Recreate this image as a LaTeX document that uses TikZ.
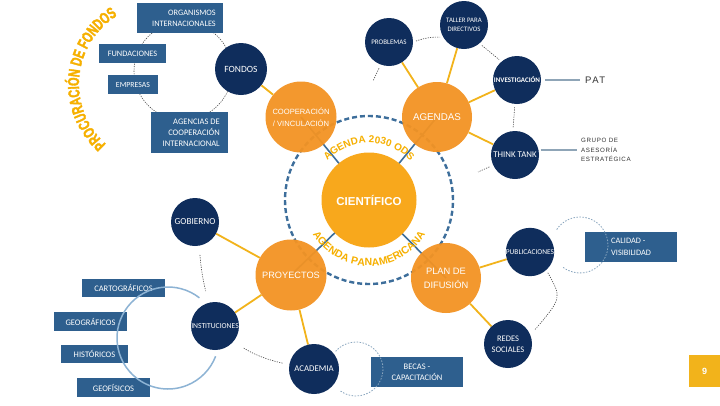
\documentclass[tikz,border=0pt]{standalone}
\usepackage{fontspec}
\setmainfont{Carlito}
\newfontfamily\lib{Liberation Sans}
\newfontfamily\heavy[FakeStretch=0.68, BoldFeatures={FakeStretch=0.68, FakeBold=2}]{Liberation Sans}
\usetikzlibrary{decorations.text,backgrounds}
\newcommand\myfs[2]{\fontsize{#1}{#2}\selectfont}
\definecolor{navy}{HTML}{0F2D5C}
\definecolor{boxblue}{HTML}{2E5F8E}
\definecolor{orangeC}{HTML}{F39323}
\definecolor{sciC}{HTML}{F8A81C}
\definecolor{goldl}{HTML}{F2B31B}
\definecolor{goldt}{HTML}{F6B000}
\definecolor{ringblue}{HTML}{3D6E9B}
\definecolor{lightarc}{HTML}{8DB3D4}
\definecolor{grayl}{HTML}{8FA5B7}
\definecolor{dotgray}{HTML}{4A4A4A}
\definecolor{dotlight}{HTML}{8AA6BF}
\definecolor{txtdark}{HTML}{333333}
\tikzset{
 navyc/.style={circle, fill=navy, text=white, minimum size=48pt, inner sep=0pt, align=center},
 orc/.style={circle, fill=orangeC, fill opacity=0.95, text opacity=1, text=white, minimum size=71pt, inner sep=0pt, align=center},
 bbox/.style={rectangle, fill=boxblue, text=white, inner sep=0pt, align=center},
 btxt/.style={text=white, inner sep=0pt},
 goldc/.style={draw=goldl, line width=1.8pt},
 spoke/.style={draw=ringblue, line width=1.6pt},
 dotc/.style={draw=dotgray, line width=0.6pt, dash pattern=on 1.2pt off 1.2pt},
 dotl/.style={draw=dotlight, line width=0.8pt, dash pattern=on 1.5pt off 1.5pt},
 grayc/.style={draw=grayl, line width=1.6pt},
}
\begin{document}
\begin{tikzpicture}[x=1pt,y=1pt]
\useasboundingbox (0,0) rectangle (720,-405);

% ---------- boxes ----------
\node[bbox, minimum width=86pt, minimum height=30pt] (org) at (180,-18) {};
\node[btxt, anchor=east, align=right, font=\myfs{8.3}{11}] (orgt) at (216,-18) {ORGANISMOS\\INTERNACIONALES};
\node[bbox, minimum width=67pt, minimum height=19pt, font=\myfs{8.3}{10}] (fund) at (132.5,-53.5) {FUNDACIONES};
\node[bbox, minimum width=50pt, minimum height=19pt, font=\myfs{7.8}{10}] (emp) at (133,-84.5) {EMPRESAS};
\node[bbox, minimum width=77pt, minimum height=41pt] (agen) at (189.5,-132.5) {};
\node[btxt, anchor=east, align=right, font=\myfs{8.5}{11}] (agent) at (220,-132.5) {AGENCIAS DE\\COOPERACIÓN\\INTERNACIONAL};
\node[bbox, minimum width=92pt, minimum height=30pt] (cal) at (631,-247) {};
\node[btxt, anchor=west, align=left, font=\myfs{8.3}{11.5}] (calt) at (611,-247) {CALIDAD -\\VISIBILIDAD};
\node[bbox, minimum width=92pt, minimum height=30pt, font=\myfs{8.5}{11}] (becas) at (417,-372) {BECAS -\\CAPACITACIÓN};
\node[bbox, minimum width=83pt, minimum height=18pt, font=\myfs{8.5}{10}] (carto) at (123.5,-288) {CARTOGRÁFICOS};
\node[bbox, minimum width=73pt, minimum height=19pt, font=\myfs{8.5}{10}] (geog) at (90.5,-321.5) {GEOGRÁFICOS};
\node[bbox, minimum width=67pt, minimum height=18pt, font=\myfs{8.5}{10}] (hist) at (94.5,-354) {HISTÓRICOS};
\node[bbox, minimum width=73pt, minimum height=19pt, font=\myfs{8.5}{10}] (geof) at (113.5,-387.5) {GEOFÍSICOS};
\node[rectangle, fill=goldl, text=white, minimum width=31pt, minimum height=32pt, inner sep=0pt, font=\lib\bfseries\myfs{9}{10}] (page) at (704.5,-371) {9};

% ---------- navy circles ----------
\node[navyc, minimum size=52pt, font=\myfs{9.5}{10}] (fondos) at (241,-69) {FONDOS};
\node[navyc, font=\myfs{7}{8}] (prob) at (389,-42) {PROBLEMAS};
\node[navyc, font=\myfs{6.8}{9}] (tall) at (464,-25) {TALLER PARA\\DIRECTIVOS};
\node[navyc, font=\bfseries\myfs{7}{8}] (inv) at (517,-80) {INVESTIGACIÓN};
\node[navyc, font=\myfs{8.8}{10}] (think) at (515,-155) {THINK TANK};
\node[navyc, font=\myfs{9.2}{10}] (gob) at (195,-222) {GOBIERNO};
\node[navyc, font=\myfs{7.6}{9}] (inst) at (215,-326) {INSTITUCIONES};
\node[navyc, minimum size=50pt, font=\myfs{8.8}{10}] (acad) at (314,-369) {ACADEMIA};
\node[navyc, font=\myfs{7.4}{9}] (pub) at (530,-252) {PUBLICACIONES};
\node[navyc, font=\myfs{8.5}{11}] (redes) at (508,-344) {REDES\\SOCIALES};

% ---------- orange circles ----------
\node[orc, font=\lib\myfs{7.6}{12}] (coop) at (301,-117) {COOPERACIÓN\\/ VINCULACIÓN};
\node[orc, minimum size=70pt, font=\lib\myfs{9.8}{11}] (agendas) at (437,-117) {AGENDAS};
\node[orc, font=\lib\myfs{9.2}{11}] (proy) at (291,-275) {PROYECTOS};
\node[orc, minimum size=70pt, font=\lib\myfs{9.3}{14}] (plan) at (446,-278) {PLAN DE\\DIFUSIÓN};
\node[circle, fill=sciC, text=white, minimum size=95pt, inner sep=0pt, font=\lib\bfseries\myfs{11.5}{12}] (cient) at (369,-200) {CIENTÍFICO};

% ---------- side labels ----------
\node[font=\lib\myfs{9.5}{9.5}\addfontfeature{LetterSpace=15}, text=txtdark, anchor=west, inner sep=0pt] (pat) at (585,-80) {PAT};
\node[font=\lib\myfs{6.2}{9.5}\addfontfeature{LetterSpace=10}, text=txtdark, anchor=west, align=left, inner sep=0pt] (grupo) at (581,-150) {GRUPO DE\\ASESORÍA\\ESTRATÉGICA};

\coordinate (pf) at (373,-81);
\coordinate (tf) at (478,-172);

\begin{scope}[on background layer]
 \fill[white] (0,0) rectangle (720,-405);
 \draw[dotc] (183,-71) circle[radius=49];
 \draw[ringblue, line width=2.4pt, dash pattern=on 5pt off 3pt] (369,-200) circle[radius=84];
 \draw[spoke] (cient.center) -- (coop.center);
 \draw[spoke] (cient.center) -- (agendas.center);
 \draw[spoke] (cient.center) -- (proy.center);
 \draw[spoke] (cient.center) -- (plan.center);
 \draw[goldc] (fondos) -- (coop);
 \draw[goldc] (agendas) -- (prob);
 \draw[goldc] (agendas) -- (tall);
 \draw[goldc] (agendas) -- (inv);
 \draw[goldc] (agendas) -- (think);
 \draw[goldc] (proy) -- (gob);
 \draw[goldc] (proy) -- (inst);
 \draw[goldc] (proy) -- (acad);
 \draw[goldc] (plan) -- (pub);
 \draw[goldc] (plan) -- (redes);
 \draw[dotc, shorten <=3pt, shorten >=3pt] (prob.0) to[bend left=10] (tall.210);
 \draw[dotc, shorten <=3pt, shorten >=3pt] (tall.-50) -- (inv.130);
 \draw[dotc, shorten <=3pt, shorten >=3pt] (inv.-95) -- (think.95);
 \draw[dotc, shorten <=4pt] (think.205) -- (tf);
 \draw[dotc, shorten <=4pt] (prob.250) -- (pf);
 \draw[dotc, shorten <=9pt, shorten >=12pt] (gob.-80) to[bend right=5] (inst.105);
 \draw[dotc, shorten <=12pt, shorten >=6pt] (inst.-40) to[bend right=10] (acad.170);
 \draw[dotc, shorten <=3pt, shorten >=6pt] (pub.-48) .. controls (562,-298) .. (redes.22);
\end{scope}

\draw[grayc, shorten <=4pt, shorten >=5pt] (inv) -- (pat);
\draw[grayc, shorten <=2pt, shorten >=4pt] (think.12) -- (think.12 -| grupo.west);

% arcs over boxes
\draw[lightarc, line width=1.5pt] (168,-338) ++(52:51) arc[start angle=52, end angle=339, radius=51];
\draw[dotl] (356,-369) ++(-125:27) arc[start angle=-125, end angle=139, radius=27];
\draw[dotl] (580,-245) ++(-127:28) arc[start angle=-127, end angle=148, radius=28];

% curved texts
\path[decorate, decoration={text along path, text align=center, text color=goldt,
  text={|\heavy\bfseries\myfs{16}{16}|PROCURACIÓN DE FONDOS}}]
  (159,-84) ++(250:80) arc[start angle=250, end angle=100, radius=80];
\path[decorate, decoration={text along path, text align=center, text color=goldt,
  text={|\lib\bfseries\myfs{10}{10}|AGENDA 2030 ODS}}]
  (369,-200) ++(170:57) arc[start angle=170, end angle=10, radius=57];
\path[decorate, decoration={text along path, text align=center, text color=goldt,
  text={|\lib\bfseries\myfs{10.5}{10.5}|AGENDA PANAMERICANA}}]
  (369,-200) ++(190:66) arc[start angle=190, end angle=350, radius=66];
\end{tikzpicture}
\end{document}
